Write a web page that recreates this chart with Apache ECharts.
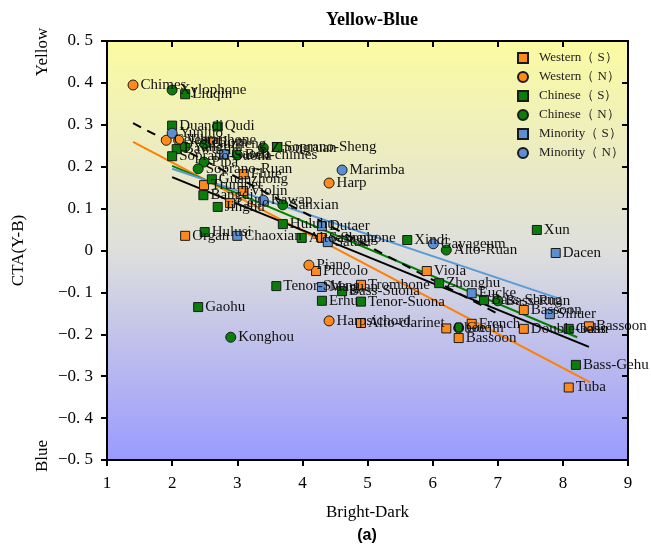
<!DOCTYPE html>
<html>
<head>
<meta charset="utf-8">
<script src="https://cdn.jsdelivr.net/npm/echarts@6/dist/echarts.min.js"></script>
<style>
  html, body { margin: 0; padding: 0; background: #ffffff; }
  #chart { width: 651px; height: 547px; }
</style>
</head>
<body>
<div id="chart"></div>
<script>
// Instrument timbre scores: [name, Bright-Dark, CTA(Y-B)]
const westernS = [
  ['Horn', 2.58, 0.258], ['Flute', 3.10, 0.182], ['Trumpet', 2.49, 0.156],
  ['Violin', 3.09, 0.142], ['Cello', 2.89, 0.113], ['Organ', 2.20, 0.035],
  ['Saxophone', 4.30, 0.030], ['Piccolo', 4.21, -0.049], ['Trombone', 4.90, -0.082],
  ['Alto-clarinet', 4.90, -0.173], ['Viola', 5.91, -0.049], ['Oboe', 6.21, -0.186],
  ['French', 6.60, -0.175], ['Bassoon', 6.40, -0.209], ['Bassoon', 7.40, -0.142],
  ['Double-bass', 7.40, -0.187], ['Bassoon', 8.40, -0.181], ['Tuba', 8.09, -0.327]
];
const westernN = [
  ['Chimes', 1.40, 0.395], ['Celesta', 1.91, 0.263], ['Vibraphone', 2.10, 0.263],
  ['Harp', 4.41, 0.161], ['Piano', 4.10, -0.035], ['Harpsichord', 4.41, -0.168]
];
const chineseS = [
  ['Liuqin', 2.20, 0.373], ['Duandi', 2.00, 0.298], ['Qudi', 2.70, 0.296],
  ['Bawu', 2.07, 0.242], ['Soprano-Suona', 2.00, 0.225], ['Soprano-Sheng', 3.61, 0.247],
  ['Guanzhong', 2.61, 0.170], ['Bangdi', 2.48, 0.132], ['Jinghu', 2.70, 0.104],
  ['Huluhu', 3.70, 0.063], ['Hulusi', 2.50, 0.044], ['Alto-Sheng', 3.99, 0.030],
  ['Xindi', 5.61, 0.025], ['Xun', 7.60, 0.049], ['Zhonghu', 6.10, -0.078],
  ['Bass-Sheng', 6.79, -0.118], ['Gehu', 8.09, -0.187], ['Bass-Gehu', 8.20, -0.273],
  ['Tenor-Sheng', 3.60, -0.085], ['Bass-Suona', 4.61, -0.097], ['Erhu', 4.30, -0.120],
  ['Tenor-Suona', 4.90, -0.122], ['Gaohu', 2.40, -0.135]
];
const chineseN = [
  ['Xylophone', 2.00, 0.383], ['Yangqin', 2.20, 0.247], ['Guzheng', 2.50, 0.254],
  ['Bell-chimes', 3.00, 0.228], ['Zhongruan', 3.40, 0.245], ['Pipa', 2.49, 0.211],
  ['Soprano-Ruan', 2.40, 0.195], ['Sanxian', 3.70, 0.109], ['Alto-Ruan', 6.21, 0.001],
  ['Bass-Ruan', 7.00, -0.120], ['Guqin', 6.40, -0.185], ['Konghou', 2.90, -0.207]
];
const minorityS = [
  ['Gaoda', 2.80, 0.230], ['Chaoxian', 3.00, 0.035], ['Dutaer', 4.30, 0.058],
  ['Sataer', 4.39, 0.020], ['Maguan', 4.30, -0.087], ['Eucke', 6.60, -0.102],
  ['Dacen', 7.89, -0.006], ['Sihuer', 7.80, -0.152]
];
const minorityN = [
  ['Yunluo', 2.00, 0.280], ['Rawap', 3.40, 0.120], ['Marimba', 4.61, 0.192],
  ['Gayageum', 6.01, 0.016]
];

// Fitted trend lines (end points)
const fitWestern = [[1.40, 0.259], [8.42, -0.315]];
const fitChinese = [[2.00, 0.202], [8.22, -0.207]];
const fitMinority = [[2.00, 0.195], [7.91, -0.113]];
const fitAll = [[2.00, 0.175], [8.40, -0.230]];
const fitNonSustained = [[1.40, 0.304], [7.00, -0.151]];

const xTickLabels = ['1', '2', '3', '4', '5', '6', '7', '8', '9'];
const yTickLabels = ['\u22120. 5', '\u22120. 4', '\u22120. 3', '\u22120. 2', '\u22120. 1',
                     '0', '0. 1', '0. 2', '0. 3', '0. 4', '0. 5'];

const seriesNames = ['Western\uFF08 S\uFF09', 'Western\uFF08 N\uFF09', 'Chinese\uFF08 S\uFF09',
                     'Chinese\uFF08 N\uFF09', 'Minority\uFF08 S\uFF09', 'Minority\uFF08 N\uFF09'];

const ORANGE = '#ff8a1c', GREEN = '#0b7d0b', BLUE = '#5b8fd2';
const SERIF = 'Liberation Serif';

function scatter(name, rows, symbol, color) {
  return {
    type: 'scatter',
    name: name,
    symbol: symbol,
    symbolSize: symbol === 'rect' ? 9 : 10,
    z: 4,
    data: rows.map(r => ({ name: r[0], value: [r[1], r[2]] })),
    itemStyle: { color: color, borderColor: '#1a1a1a', borderWidth: 1, opacity: 1 },
    label: {
      show: true, position: 'right', distance: 2, formatter: '{b}',
      color: '#111', fontFamily: SERIF, fontSize: 15
    },
    emphasis: { disabled: true }
  };
}

function fitLine(points, color, type) {
  return {
    type: 'line',
    data: points,
    showSymbol: false,
    silent: true,
    z: 3,
    lineStyle: { color: color, width: 2, type: type || 'solid' }
  };
}

const chart = echarts.init(document.getElementById('chart'), null, { renderer: 'canvas' });

const axisLine = { show: true, onZero: false, lineStyle: { color: '#000', width: 2 } };

chart.setOption({
  animation: false,
  title: {
    text: 'Yellow-Blue', left: 367, top: 6, textAlign: 'center',
    textStyle: { fontFamily: SERIF, fontWeight: 'bold', fontSize: 18, color: '#000' }
  },
  grid: {
    left: 107, right: 23, top: 41, bottom: 87, show: true, borderWidth: 0,
    backgroundColor: new echarts.graphic.LinearGradient(0, 0, 0, 1, [
      { offset: 0, color: '#fbfba2' },
      { offset: 0.5, color: '#dedfdc' },
      { offset: 1, color: '#9a9aff' }
    ])
  },
  legend: {
    data: seriesNames,
    orient: 'vertical', left: 512, top: 46,
    itemWidth: 10, itemHeight: 10, itemGap: 5,
    textStyle: { fontFamily: SERIF, fontSize: 13, color: '#222', lineHeight: 14,
                 padding: [0, 0, 0, 6] }
  },
  xAxis: [{
    type: 'value', position: 'bottom', min: 1, max: 9, interval: 1,
    name: 'Bright-Dark', nameLocation: 'middle', nameGap: 44,
    nameTextStyle: { fontFamily: SERIF, fontSize: 17, color: '#000' },
    axisLine: axisLine,
    axisTick: { show: true, inside: false, length: 6, lineStyle: { color: '#000', width: 2 } },
    axisLabel: {
      margin: 15, fontFamily: SERIF, fontSize: 17, color: '#000',
      formatter: v => xTickLabels[Math.round(v - 1)]
    },
    splitLine: { show: false }
  }, {
    type: 'value', position: 'top', min: 1, max: 9, interval: 1,
    axisLine: axisLine,
    axisTick: { show: true, inside: true, length: 6, lineStyle: { color: '#000', width: 2 } },
    axisLabel: { show: false },
    splitLine: { show: false }
  }],
  yAxis: [{
    type: 'value', position: 'left', min: -0.5, max: 0.5, interval: 0.1,
    name: 'CTA(Y-B)', nameLocation: 'middle', nameGap: 80,
    nameTextStyle: { fontFamily: SERIF, fontSize: 17, color: '#000' },
    axisLine: axisLine,
    axisTick: { show: true, inside: false, length: 6, lineStyle: { color: '#000', width: 2 } },
    axisLabel: {
      margin: 14, fontFamily: SERIF, fontSize: 17, color: '#000',
      formatter: v => yTickLabels[Math.round((v + 0.5) * 10)]
    },
    splitLine: { show: false }
  }, {
    type: 'value', position: 'right', min: -0.5, max: 0.5, interval: 0.1,
    axisLine: axisLine,
    axisTick: { show: true, inside: true, length: 6, lineStyle: { color: '#000', width: 2 } },
    axisLabel: { show: false },
    splitLine: { show: false }
  }],
  graphic: [
    { type: 'text', x: 43, y: 52, rotation: Math.PI / 2,
      style: { text: 'Yellow', fontFamily: SERIF, fontSize: 17, fill: '#000',
               align: 'center', verticalAlign: 'middle' } },
    { type: 'text', x: 43, y: 456, rotation: Math.PI / 2,
      style: { text: 'Blue', fontFamily: SERIF, fontSize: 17, fill: '#000',
               align: 'center', verticalAlign: 'middle' } },
    { type: 'text', x: 367, y: 536,
      style: { text: '(a)', fontFamily: 'Liberation Sans', fontWeight: 'bold', fontSize: 16,
               fill: '#000', align: 'center', verticalAlign: 'middle' } }
  ],
  series: [
    fitLine(fitWestern, '#ff7f00'),
    fitLine(fitChinese, '#008000'),
    fitLine(fitMinority, '#5b9bd5'),
    fitLine(fitAll, '#000000'),
    fitLine(fitNonSustained, '#000000', [9, 7]),
    scatter(seriesNames[0], westernS, 'rect', ORANGE),
    scatter(seriesNames[1], westernN, 'circle', ORANGE),
    scatter(seriesNames[2], chineseS, 'rect', GREEN),
    scatter(seriesNames[3], chineseN, 'circle', GREEN),
    scatter(seriesNames[4], minorityS, 'rect', BLUE),
    scatter(seriesNames[5], minorityN, 'circle', BLUE)
  ]
});
</script>
</body>
</html>
